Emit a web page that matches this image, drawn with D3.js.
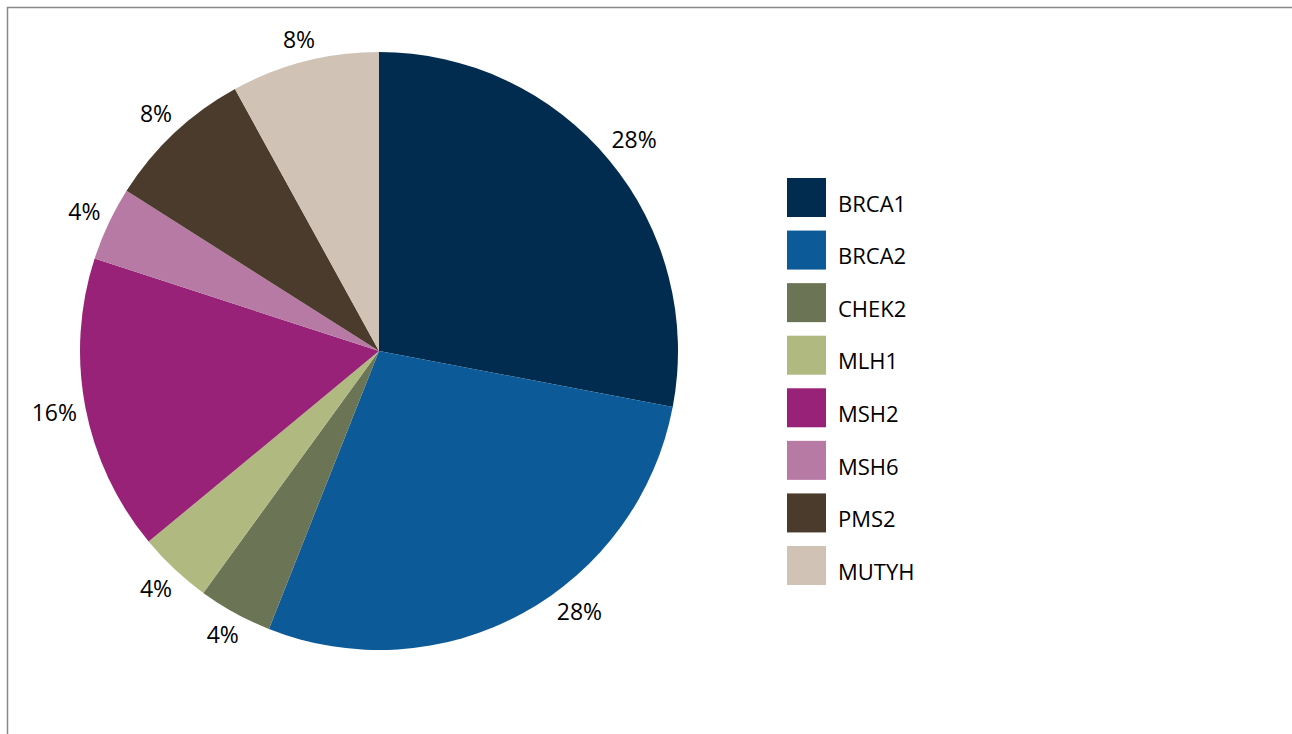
<!DOCTYPE html>
<html>
<head>
<meta charset="utf-8">
<script src="https://cdn.jsdelivr.net/npm/d3@7"></script>
<style>
  body { margin: 0; background: #fff; }
  text { font-family: "Open Sans", sans-serif; fill: #000; }
</style>
</head>
<body>
<svg id="chart" width="1292" height="734"></svg>
<script>
  var genes = ["BRCA1", "BRCA2", "CHEK2", "MLH1", "MSH2", "MSH6", "PMS2", "MUTYH"];
  var shares = [28, 28, 4, 4, 16, 4, 8, 8];
  var colors = ["#012c4f", "#0c5a97", "#6b7455", "#b0b97f", "#972277", "#b77aa4", "#4b3b2c", "#d0c3b6"];

  var outerWidth = 1292,
      outerHeight = 734,
      cx = 379,
      cy = 351,
      radius = 299,
      labelGap = 7;

  // the BRCA2 label sits a little up from its slice middle in the original
  var labelTurn = { BRCA2: -8.7 * Math.PI / 180 };

  var data = genes.map((g, i) => ({ name: g, value: shares[i] }));

  var svg = d3.select("#chart");

  // frame (only top and left edges are visible in the picture)
  svg.append("rect")
      .attr("x", 7.5)
      .attr("y", 7.5)
      .attr("width", outerWidth + 20)
      .attr("height", outerHeight + 20)
      .attr("fill", "none")
      .attr("stroke", "#888")
      .attr("stroke-width", 1.5);

  var color = d3.scaleOrdinal()
      .domain(genes)
      .range(colors);

  var pie = d3.pie()
      .sort(null)
      .value(d => d.value);

  var arc = d3.arc()
      .innerRadius(0)
      .outerRadius(radius);

  var arcs = pie(data);

  var g = svg.append("g")
      .attr("transform", `translate(${cx},${cy})`);

  g.selectAll("path")
    .data(arcs)
    .join("path")
      .attr("fill", d => color(d.data.name))
      .attr("d", arc);

  // outside-end labels: push the label box just clear of the rim
  g.append("g")
      .attr("text-anchor", "middle")
      .attr("font-size", "23px")
    .selectAll("text")
    .data(arcs)
    .join("text")
      .attr("dy", "0.35em")
      .text(d => d.data.value + "%")
      .attr("transform", function(d) {
        var a = (d.startAngle + d.endAngle) / 2 + (labelTurn[d.data.name] || 0);
        var hw = this.getComputedTextLength() / 2, hh = 12;
        var r = radius + labelGap + Math.abs(Math.sin(a)) * hw + Math.abs(Math.cos(a)) * hh;
        return `translate(${Math.sin(a) * r},${-Math.cos(a) * r})`;
      });

  var legendY = d3.scalePoint()
      .domain(genes)
      .range([178, 546]);

  var legend = svg.append("g")
      .attr("transform", "translate(787,0)")
    .selectAll("g")
    .data(genes)
    .join("g")
      .attr("transform", d => `translate(0,${legendY(d)})`);

  legend.append("rect")
      .attr("width", 39)
      .attr("height", 39)
      .attr("fill", d => color(d));

  legend.append("text")
      .attr("x", 51)
      .attr("y", 26)
      .attr("dy", "0.35em")
      .attr("font-size", "22px")
      .text(d => d);
</script>
</body>
</html>
